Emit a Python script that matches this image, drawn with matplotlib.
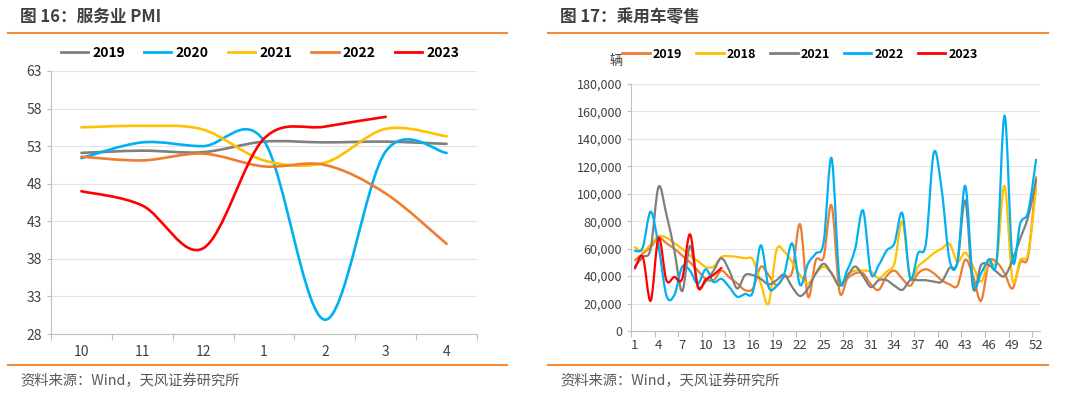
import numpy as np
import matplotlib
matplotlib.use("Agg")
import matplotlib.pyplot as plt
from matplotlib.path import Path
from matplotlib.patches import PathPatch
from matplotlib.lines import Line2D
from matplotlib.ticker import FuncFormatter

plt.rcParams['font.family'] = ['Noto Sans CJK SC', 'DejaVu Sans']

# 图16 服务业PMI
pmi_months = ["10", "11", "12", "1", "2", "3", "4"]
pmi_2019 = [52.1, 52.4, 52.2, 53.6, 53.5, 53.6, 53.3]
pmi_2020 = [51.4, 53.5, 53.0, 53.7, 29.9, 52.3, 52.1]
pmi_2021 = [55.5, 55.7, 55.2, 51.1, 50.8, 55.3, 54.3]
pmi_2022 = [51.6, 51.1, 52.0, 50.3, 50.5, 46.7, 40.0]
pmi_2023 = [47.0, 45.1, 39.4, 54.0, 55.6, 56.9]

# 图17 乘用车零售 (辆), 52 weeks
weeks = list(range(1, 53))
car_2019 = [51600, 56500, 61000, 68000, 64000, 60000, 55000, 50000, 44000, 38000,
            37000, 44000, 39000, 34700, 29800, 31000, 46800, 40700, 33500, 39500,
            43000, 77800, 25000, 51600, 54000, 91600, 29000, 38000, 42000, 42000,
            34000, 30000, 40000, 44000, 38000, 33000, 42000, 45000, 42000, 37000,
            34000, 33000, 52000, 40000, 22000, 50000, 50000, 42000, 31000, 50000,
            55000, 112000]
car_2018 = [61000, 58000, 63000, 69000, 68000, 64000, 60000, 55000, 51000, 46700,
            47000, 54000, 54500, 54000, 53000, 52000, 34700, 20000, 59000, 57700,
            50000, 40700, 34700, 42000, 46800, 42000, 33000, 41000, 44000, 44000,
            43300, 38400, 43300, 49400, 79800, 38400, 47000, 51800, 56700, 60000,
            63500, 50600, 57200, 47000, 36000, 50600, 51800, 105800, 37200, 51800,
            56700, 104000]
car_2021 = [47000, 54000, 60000, 105000, 85000, 59000, 29000, 62000, 33000, 36000,
            44000, 53000, 44000, 31000, 40700, 40700, 38000, 34000, 37000, 41000,
            32000, 25500, 31000, 42000, 49000, 42000, 33000, 40000, 47000, 40000,
            32000, 37000, 37000, 33000, 30000, 37000, 37000, 37000, 36000, 36000,
            46000, 50000, 95000, 31000, 48000, 48000, 43000, 40000, 51800, 67600,
            83400, 110000]
car_2022 = [58400, 61000, 87000, 62000, 26000, 26000, 46700, 44000, 34500, 45000,
            35700, 38000, 32000, 25000, 27000, 28600, 62500, 32000, 32700, 42000,
            63800, 33500, 49000, 56500, 65000, 126000, 38400, 44500, 60000, 87800,
            42000, 48000, 58600, 64000, 85800, 38400, 56700, 64000, 130000, 103000,
            51800, 50600, 105800, 34800, 42000, 52300, 51800, 157000, 51800, 78600,
            87000, 124800]
car_2023 = [45600, 54000, 22000, 68000, 37000, 39400, 38000, 70500, 32000, 37500,
            41000, 46000]

ORANGE_RULE = '#F28C38'
GREY_TXT = '#404040'


def smooth_path(ys, k=1 / 6):
    # Excel-style smoothed line: cubic Bezier through every point
    xs = np.arange(len(ys), dtype=float)
    pts = np.column_stack([xs, np.asarray(ys, dtype=float)])
    n = len(pts)
    verts = [pts[0]]
    codes = [Path.MOVETO]
    for i in range(n - 1):
        p0 = pts[max(i - 1, 0)]
        p1 = pts[i]
        p2 = pts[i + 1]
        p3 = pts[min(i + 2, n - 1)]
        verts += [p1 + (p2 - p0) * k, p2 - (p3 - p1) * k, p2]
        codes += [Path.CURVE4] * 3
    return Path(verts, codes)


def style_axes(ax):
    for s in ['top', 'right']:
        ax.spines[s].set_visible(False)
    for s in ['left', 'bottom']:
        ax.spines[s].set_color('#bfbfbf')
        ax.spines[s].set_linewidth(0.8)
    ax.grid(axis='y', color='#e3e3e3', linewidth=0.8)
    ax.set_axisbelow(True)
    ax.tick_params(axis='both', which='both', colors='#bfbfbf', labelcolor=GREY_TXT)
    ax.tick_params(axis='y', length=3, width=0.8)


fig = plt.figure(figsize=(10.8, 3.98), dpi=100)

# ---------- left: 服务业 PMI ----------
ax1 = fig.add_axes([51 / 1080, 1 - 334 / 398, 426 / 1080, 263 / 398])
style_axes(ax1)
left_series = [("2019", pmi_2019, '#7f7f7f'), ("2020", pmi_2020, '#00B0F0'),
               ("2021", pmi_2021, '#FFC000'), ("2022", pmi_2022, '#ED7D31'),
               ("2023", pmi_2023, '#FF0000')]
handles = []
for name, vals, c in left_series:
    ax1.add_patch(PathPatch(smooth_path(vals), fill=False, edgecolor=c, lw=1.9,
                            capstyle='round', joinstyle='round'))
    handles.append(Line2D([], [], color=c, lw=2, label=name))
ax1.set_xlim(-0.5, len(pmi_months) - 0.5)
ax1.set_ylim(28, 63)
ax1.set_yticks(np.arange(28, 64, 5))
ax1.set_xticks(np.arange(-0.5, len(pmi_months)), labels=[])
ax1.set_xticks(np.arange(len(pmi_months)), labels=pmi_months, minor=True)
ax1.tick_params(axis='x', which='major', length=4, width=0.8)
ax1.tick_params(axis='x', which='minor', length=0, pad=8, labelsize=10)
ax1.tick_params(axis='y', labelsize=10)
fig.legend(handles=handles, loc='center', bbox_to_anchor=(260 / 1080, 1 - 53 / 398),
           ncol=5, frameon=False, handlelength=1.95, handletextpad=0.3,
           columnspacing=1.4, prop={'weight': 'bold', 'size': 10})

# ---------- right: 乘用车零售 ----------
ax2 = fig.add_axes([631 / 1080, 1 - 331 / 398, 409 / 1080, 247 / 398])
style_axes(ax2)
right_series = [("2019", car_2019, '#ED7D31'), ("2018", car_2018, '#FFC000'),
                ("2021", car_2021, '#7f7f7f'), ("2022", car_2022, '#00B0F0'),
                ("2023", car_2023, '#FF0000')]
handles2 = []
for name, vals, c in right_series:
    ax2.add_patch(PathPatch(smooth_path(vals), fill=False, edgecolor=c, lw=1.6,
                            capstyle='round', joinstyle='round'))
    handles2.append(Line2D([], [], color=c, lw=2, label=name))
ax2.set_xlim(-0.5, len(weeks) - 0.5)
ax2.set_ylim(0, 180000)
ax2.set_yticks(np.arange(0, 180001, 20000))
ax2.yaxis.set_major_formatter(FuncFormatter(lambda v, p: f"{v:,.0f}"))
ax2.set_xticks(np.arange(-0.5, len(weeks), 3), labels=[])
ax2.set_xticks(np.arange(0, len(weeks), 3), labels=[str(w) for w in weeks[::3]], minor=True)
ax2.tick_params(axis='x', which='major', length=4, width=0.8)
ax2.tick_params(axis='x', which='minor', length=0, pad=6, labelsize=9.5)
ax2.tick_params(axis='y', labelsize=9)
fig.legend(handles=handles2, loc='center', bbox_to_anchor=(800 / 1080, 1 - 54 / 398),
           ncol=5, frameon=False, handlelength=2.2, handletextpad=0.25,
           columnspacing=1.1, prop={'weight': 'bold', 'size': 9})
fig.text(616 / 1080, 1 - 62 / 398, "辆", fontsize=9.5, color=GREY_TXT,
         ha='center', va='center')

# ---------- titles, rules, sources ----------
for x0, x1, title in [(8, 507, "图 16：服务业 PMI"), (548, 1048, "图 17：乘用车零售")]:
    fig.text((x0 + 12) / 1080, 1 - 17 / 398, title, fontsize=12, fontweight='bold',
             color=GREY_TXT, ha='left', va='center')
    for yy in (33, 365):
        fig.add_artist(Line2D([x0 / 1080, x1 / 1080], [1 - yy / 398, 1 - yy / 398],
                              transform=fig.transFigure, color=ORANGE_RULE, lw=1.5))
    fig.text((x0 + 12) / 1080, 1 - 381 / 398, "资料来源：Wind，天风证券研究所",
             fontsize=10.3, color='#595959', ha='left', va='center')

fig.savefig("out.png", dpi=100)
